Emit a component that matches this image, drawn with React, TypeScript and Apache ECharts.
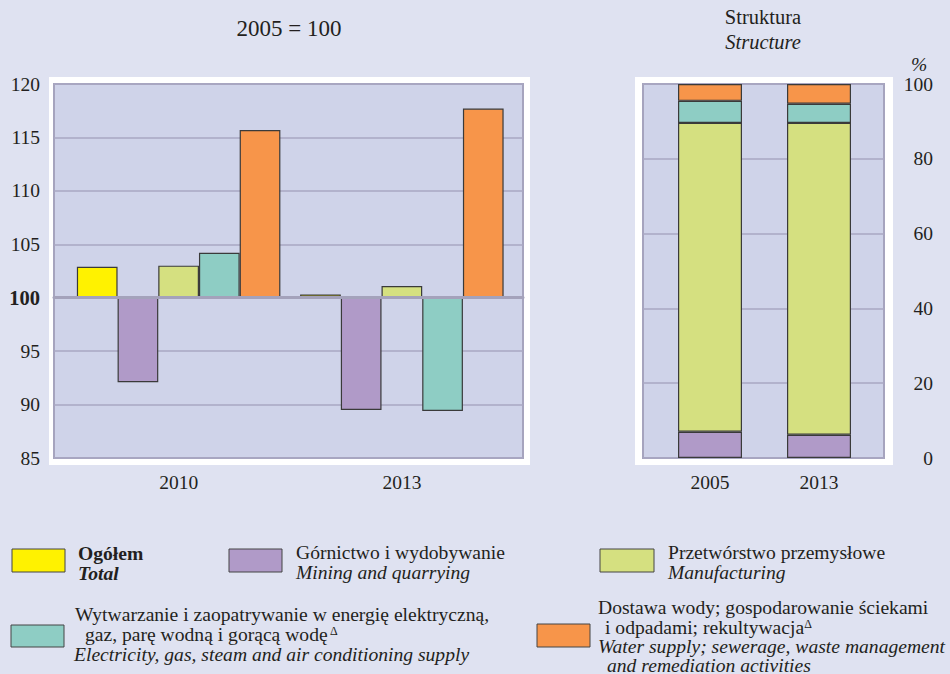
import React, { useEffect, useRef } from 'react';
import * as echarts from 'echarts';

// ---------- data ----------
const BASE = 100; // 2005 = 100
const indexYears = ['2010', '2013'];
const structureYears = ['2005', '2013'];

const seriesNamesPl = [
  'Ogółem',
  'Górnictwo i wydobywanie',
  'Przetwórstwo przemysłowe',
  'Wytwarzanie i zaopatrywanie w energię elektryczną, gaz, parę wodną i gorącą wodę',
  'Dostawa wody; gospodarowanie ściekami i odpadami; rekultywacja',
];

// index values, 2005 = 100
const totalIndex = [102.9, 100.3];
const miningIndex = [92.1, 89.5];
const manufacturingIndex = [103.0, 101.1];
const electricityIndex = [104.2, 89.4];
const waterIndex = [115.7, 117.7];

// structure, %
const miningShare = [7.0, 6.2];
const manufacturingShare = [82.6, 83.4];
const electricityShare = [5.9, 5.1];
const waterShare = [4.5, 5.3];

// legend texts (lines)
const legendTotal = ['Ogółem', 'Total'];
const legendMining = ['Górnictwo i wydobywanie', 'Mining and quarrying'];
const legendManufacturing = ['Przetwórstwo przemysłowe', 'Manufacturing'];
const legendElectricity = [
  'Wytwarzanie i zaopatrywanie w energię elektryczną,',
  'gaz, parę wodną i gorącą wodę',
  'Electricity, gas, steam and air conditioning supply',
];
const legendWater = [
  'Dostawa wody; gospodarowanie ściekami',
  'i odpadami; rekultywacja',
  'Water supply; sewerage, waste management',
  'and remediation activities',
];

// ---------- styles ----------
const FONT = 'Liberation Serif, serif';
const TEXT = '#231f20';
const PAGE_BG = '#dfe2f1';
const PLOT_BG = '#cfd3e9';
const GRID_LINE = '#a9a7c2';
const BORDER = '#a6a4be';
const BAR_BORDER = '#3a3a3a';
const COLORS = ['#fff200', '#b09ac8', '#d5e080', '#8ecdc4', '#f7954a'];
const LEG_FS = 19.6;

export default function App() {
  const ref = useRef<HTMLDivElement>(null);

  useEffect(() => {
    if (!ref.current) return;
    const chart = echarts.init(ref.current, undefined, { renderer: 'svg' });

    const shift = (arr: number[]) => arr.map((v) => +(v - BASE).toFixed(2));
    const indexSeries = [totalIndex, miningIndex, manufacturingIndex, electricityIndex, waterIndex];
    const shareSeries = [miningShare, manufacturingShare, electricityShare, waterShare];

    const txt = (text: string, x: number, y: number, extra: any = {}) => ({
      type: 'text',
      x,
      y,
      style: {
        text,
        fill: TEXT,
        fontFamily: FONT,
        fontSize: LEG_FS,
        verticalAlign: 'middle',
        ...extra,
      },
    });

    const swatch = (x: number, y: number, w: number, h: number, color: string) => ({
      type: 'rect',
      shape: { x, y, width: w, height: h },
      style: { fill: color, stroke: '#444', lineWidth: 1 },
    });

    const supRich = {
      t: { fontSize: LEG_FS, fontFamily: FONT, fill: TEXT, lineHeight: 19 },
      s: { fontSize: 12, fontFamily: FONT, fill: TEXT, verticalAlign: 'top', lineHeight: 19 },
    };

    const option: any = {
      animation: false,
      backgroundColor: PAGE_BG,
      textStyle: { fontFamily: FONT, color: TEXT },
      grid: [
        { left: 54, right: 427, top: 84, bottom: 216, show: true, backgroundColor: PLOT_BG, borderColor: BORDER, borderWidth: 2 },
        { left: 67, right: 436.5, top: 84, bottom: 216 },
        { left: 643, right: 66, top: 84, bottom: 216, show: true, backgroundColor: PLOT_BG, borderColor: BORDER, borderWidth: 2 },
        { left: 655.5, right: 76.5, top: 84, bottom: 216 },
      ],
      xAxis: [
        {
          gridIndex: 0, type: 'value', min: 0, max: 1, z: 10,
          axisLine: { show: true, onZero: true, lineStyle: { color: '#a4a2bb', width: 3 } },
          axisTick: { show: false }, axisLabel: { show: false }, splitLine: { show: false },
        },
        {
          gridIndex: 1, type: 'category', data: indexYears,
          axisLine: { show: false, onZero: false }, axisTick: { show: false },
          axisLabel: { margin: 14, fontSize: 19.5, color: TEXT, fontFamily: FONT },
        },
        { gridIndex: 2, type: 'value', min: 0, max: 1, show: false },
        {
          gridIndex: 3, type: 'category', data: structureYears,
          axisLine: { show: false, onZero: false }, axisTick: { show: false },
          axisLabel: { margin: 14, fontSize: 19.5, color: TEXT, fontFamily: FONT },
        },
      ],
      yAxis: [
        {
          gridIndex: 0, type: 'value', min: -15, max: 20, interval: 5,
          axisLine: { show: false }, axisTick: { show: false },
          splitLine: { lineStyle: { color: GRID_LINE, width: 1.5 } },
          axisLabel: {
            margin: 14, fontSize: 19.5, color: TEXT, fontFamily: FONT,
            formatter: (v: number) => {
              const t = Math.round(v + BASE);
              return t === BASE ? `{b|${t}}` : `${t}`;
            },
            rich: { b: { fontWeight: 'bold', fontSize: 20.5, color: TEXT, fontFamily: FONT } },
          },
        },
        { gridIndex: 1, type: 'value', min: -15, max: 20, show: false },
        {
          gridIndex: 2, type: 'value', position: 'right', min: 0, max: 100, interval: 20,
          axisLine: { show: false }, axisTick: { show: false },
          splitLine: { lineStyle: { color: GRID_LINE, width: 1.5 } },
          axisLabel: { align: 'right', margin: 49, fontSize: 19.5, color: TEXT, fontFamily: FONT },
        },
        { gridIndex: 3, type: 'value', min: 0, max: 100, show: false },
      ],
      series: [
        ...indexSeries.map((d, i) => ({
          name: seriesNamesPl[i],
          type: 'bar',
          xAxisIndex: 1,
          yAxisIndex: 1,
          barWidth: 40.7,
          barGap: '0%',
          data: shift(d),
          itemStyle: { color: COLORS[i], borderColor: BAR_BORDER, borderWidth: 1.2 },
        })),
        ...shareSeries.map((d, i) => ({
          name: seriesNamesPl[i + 1] + ' (struktura)',
          type: 'bar',
          stack: 'share',
          xAxisIndex: 3,
          yAxisIndex: 3,
          barWidth: 64,
          data: d,
          itemStyle: { color: COLORS[i + 1], borderColor: BAR_BORDER, borderWidth: 1.2 },
        })),
      ],
      graphic: [
        // white frames behind plots
        { type: 'rect', z: -10, shape: { x: 49, y: 77, width: 481, height: 388 }, style: { fill: '#ffffff' } },
        { type: 'rect', z: -10, shape: { x: 635, y: 77, width: 258, height: 388 }, style: { fill: '#ffffff' } },
        // titles
        txt('2005 = 100', 289, 28, { fontSize: 23, align: 'center' }),
        txt('Struktura', 763, 17, { fontSize: 20.5, align: 'center' }),
        txt('Structure', 763, 42, { fontSize: 20.5, align: 'center', fontStyle: 'italic' }),
        txt('%', 919, 64, { fontSize: 19.5, align: 'center', fontStyle: 'italic' }),
        // legend
        swatch(12, 549, 53, 23, COLORS[0]),
        txt(legendTotal[0], 78, 553, { fontWeight: 'bold' }),
        txt(legendTotal[1], 78, 573, { fontWeight: 'bold', fontStyle: 'italic' }),

        swatch(229, 549, 53, 23, COLORS[1]),
        txt(legendMining[0], 296, 552),
        txt(legendMining[1], 296, 572, { fontStyle: 'italic' }),

        swatch(600, 549, 54, 23, COLORS[2]),
        txt(legendManufacturing[0], 668, 552),
        txt(legendManufacturing[1], 668, 572, { fontStyle: 'italic' }),

        swatch(11, 625, 53, 22, COLORS[3]),
        txt(legendElectricity[0], 75, 614),
        {
          type: 'text', x: 85, y: 634,
          style: { text: `{t|${legendElectricity[1]}}{s| Δ}`, rich: supRich, verticalAlign: 'middle', fill: TEXT, fontFamily: FONT, fontSize: LEG_FS },
        },
        txt(legendElectricity[2], 74, 654, { fontStyle: 'italic' }),

        swatch(537, 624, 53, 23, COLORS[4]),
        txt(legendWater[0], 598, 607),
        {
          type: 'text', x: 605, y: 627,
          style: { text: `{t|${legendWater[1]}}{s|Δ}`, rich: supRich, verticalAlign: 'middle', fill: TEXT, fontFamily: FONT, fontSize: LEG_FS },
        },
        txt(legendWater[2], 598, 646, { fontStyle: 'italic' }),
        txt(legendWater[3], 607, 665, { fontStyle: 'italic' }),
      ],
    };

    chart.setOption(option);
    return () => chart.dispose();
  }, []);

  return (
    <div
      ref={ref}
      style={{ position: 'fixed', left: 0, top: 0, width: 950, height: 674, background: PAGE_BG }}
    />
  );
}
